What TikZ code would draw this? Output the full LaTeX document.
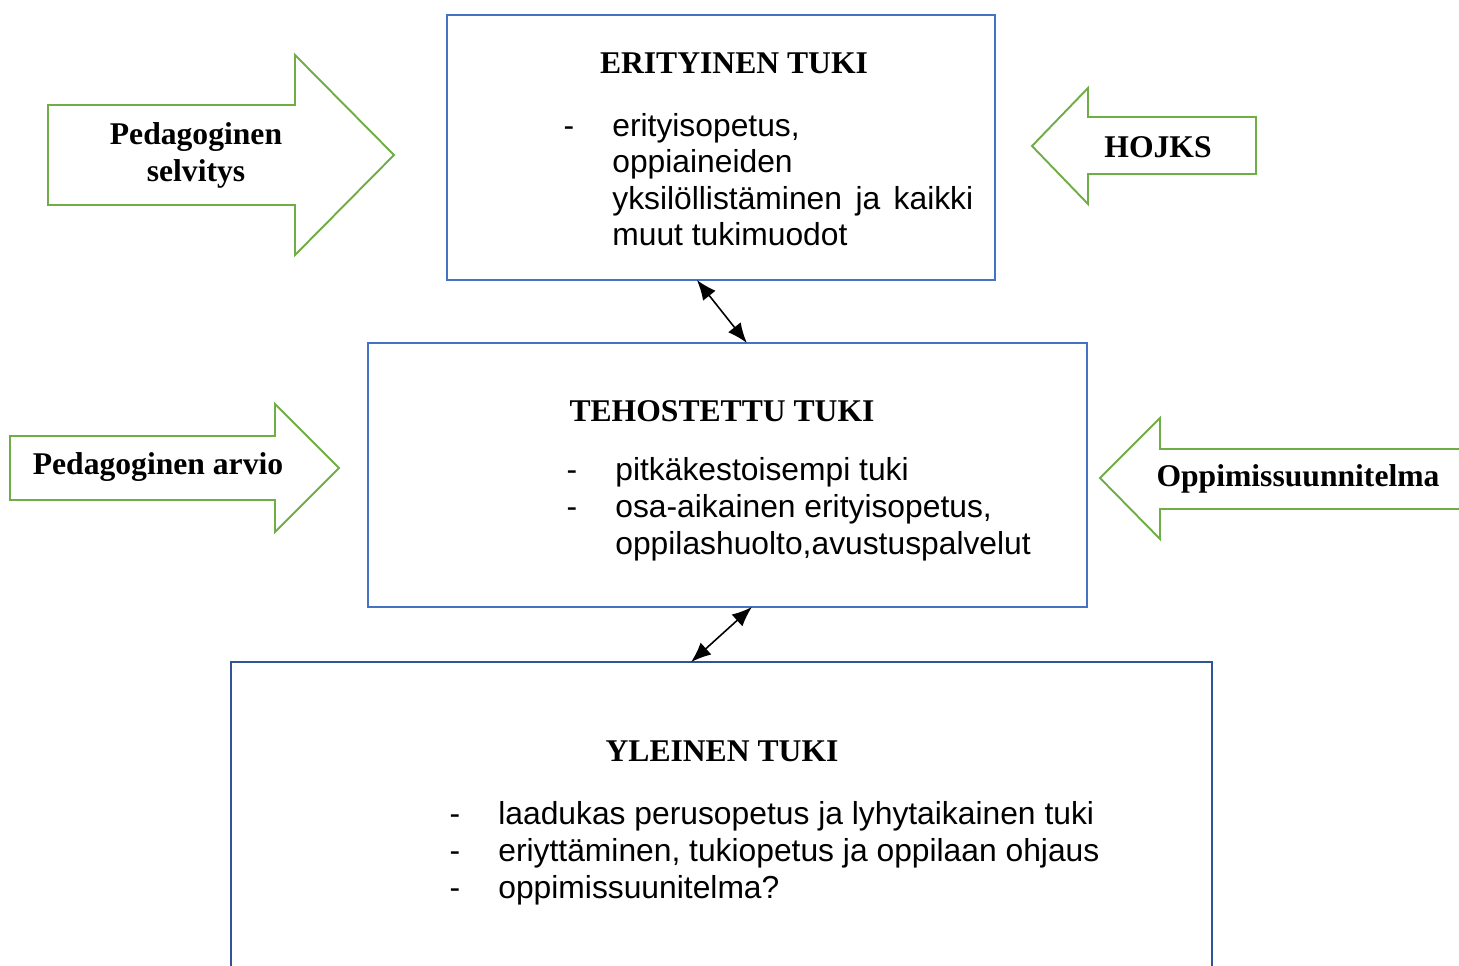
\documentclass[tikz,border=0pt]{standalone}
\usepackage{fontspec}
\setmainfont{Liberation Serif}
\newfontfamily\arialfont{Liberation Sans}
\usetikzlibrary{arrows.meta,calc}
\definecolor{boxblue}{HTML}{4472C4}
\definecolor{darkblue}{HTML}{2F5597}
\definecolor{arrowgreen}{HTML}{70AD47}
\begin{document}
\begin{tikzpicture}[x=0.02cm, y=-0.02cm,
	level/.style={draw=boxblue, line width=1.1pt, inner sep=0pt, outer sep=0pt},
	head/.style={font=\bfseries\fontsize{18}{21}\selectfont, anchor=base},
	item/.style={font=\arialfont\fontsize{18.1}{21}\selectfont, anchor=base west, inner sep=0pt},
	bullet/.style={font=\arialfont\fontsize{18.1}{21}\selectfont, anchor=base, inner sep=0pt},
	blockarrow/.style={draw=arrowgreen, line width=1.1pt, line join=miter},
	tag/.style={font=\bfseries\fontsize{18}{21}\selectfont, align=center},
	dbl/.style={{Latex[length=0.4cm,width=0.32cm]}-{Latex[length=0.4cm,width=0.32cm]}, line width=0.9pt}]

	\useasboundingbox (0,0) rectangle (1459,965);

	% the three levels
	\node[level, minimum width=10.96cm, minimum height=5.3cm] (erit) at (721,147.5) {};
	\node[level, minimum width=14.38cm, minimum height=5.28cm] (teho) at (727.5,475) {};
	\node[level, draw=darkblue, minimum width=19.62cm, minimum height=6.4cm] (ylei) at (721.5,822) {};

	% erityinen tuki
	\node[head] (eritHead) at (734,73) {ERITYINEN TUKI};
	\node[bullet] (eritDash) at (569,136) {-};
	\foreach \t [count=\i from 0] in {{erityisopetus,}, oppiaineiden,
		{\makebox[7.22cm][s]{yksilöllistäminen ja kaikki}}, muut tukimuodot}
		\node[item] (eritLine\i) at (612,136+36.5*\i) {\t};

	% tehostettu tuki
	\node[head] (tehoHead) at (722,421) {TEHOSTETTU TUKI};
	\node[bullet] (tehoDashA) at (572,480) {-};
	\node[bullet] (tehoDashB) at (572,517) {-};
	\node[item] (tehoLineA) at (615,480) {pitkäkestoisempi tuki};
	\node[item] (tehoLineB) at (615,517) {osa-aikainen erityisopetus,};
	\node[item] (tehoLineC) at (615,554) {oppilashuolto,avustuspalvelut};

	% yleinen tuki
	\node[head] (yleiHead) at (722,761) {YLEINEN TUKI};
	\foreach \t [count=\i from 0] in {laadukas perusopetus ja lyhytaikainen tuki,
		{eriyttäminen, tukiopetus ja oppilaan ohjaus}, oppimissuunitelma?}
	{
		\node[bullet] (yleiDash\i) at (455,824+37*\i) {-};
		\node[item] (yleiLine\i) at (498,824+37*\i) {\t};
	}

	% links between levels
	\draw[dbl] ($(erit.south west)!0.456!(erit.south east)$) -- ($(teho.north west)!0.527!(teho.north east)$);
	\draw[dbl] ($(teho.south west)!0.534!(teho.south east)$) -- ($(ylei.north west)!0.469!(ylei.north east)$);

	% side arrows
	\draw[blockarrow] (48,105) -- (295,105) -- (295,55) -- (394,155) -- (295,255) -- (295,205) -- (48,205) -- cycle;
	\node[tag] (selvitys) at (196,155) {Pedagoginen\\selvitys};

	\draw[blockarrow] (1256,117) -- (1088,117) -- (1088,88) -- (1032,146) -- (1088,204) -- (1088,174) -- (1256,174) -- cycle;
	\node[tag] (hojks) at (1158,147) {HOJKS};

	\draw[blockarrow] (10,436) -- (275,436) -- (275,404) -- (339,468) -- (275,532) -- (275,500) -- (10,500) -- cycle;
	\node[tag] (arvio) at (158,467) {Pedagoginen arvio};

	\draw[blockarrow] (1475,449) -- (1160,449) -- (1160,418) -- (1100,478) -- (1160,539) -- (1160,509) -- (1475,509);
	\node[tag] (suunnitelma) at (1298,479) {Oppimissuunnitelma};
\end{tikzpicture}
\end{document}
